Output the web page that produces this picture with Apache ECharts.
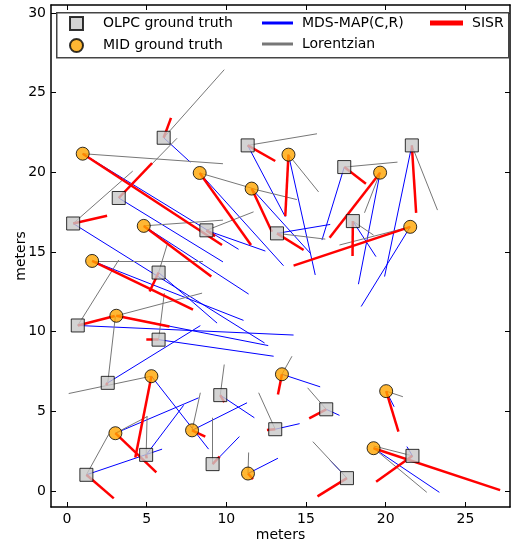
<!DOCTYPE html>
<html>
<head>
    <meta charset="utf-8">
    <title>localization errors</title>
    <style>
        html,body,#main{
            height: 100%;
            width: 100%;
            padding: 0;
            margin: 0;
            background: #fff;
        }
    </style>
</head>
<body>
    <div id="main"></div>
    <script src="https://cdn.jsdelivr.net/npm/echarts@6/dist/echarts.min.js"></script>
    <script>
        // ground truth positions (meters)
        var olpcTruth = [[6.07,22.17],[11.34,21.69],[3.25,18.39],[0.39,16.79],[8.75,16.36],[5.75,13.71],[13.18,16.17],[17.40,20.33],[17.94,16.94],[21.64,21.69],[0.68,10.39],[5.75,9.50],[2.56,6.79],[9.62,6.02],[4.97,2.27],[1.22,1.02],[9.14,1.69],[13.07,3.88],[16.27,5.13],[17.57,0.81],[21.68,2.21]];
        var midTruth = [[0.99,21.17],[8.33,19.96],[11.59,18.98],[13.90,21.11],[19.65,19.98],[4.82,16.64],[1.58,14.44],[21.54,16.58],[3.10,11.00],[5.30,7.21],[3.04,3.63],[7.85,3.81],[13.49,7.33],[20.03,6.27],[19.24,2.69],[11.36,1.10]];

        // estimated positions, same order as the truth arrays
        var olpcMds = [[7.74,20.64],[13.70,17.21],[9.79,14.38],[12.40,9.29],[12.45,15.06],[9.42,10.54],[16.52,16.73],[16.00,15.75],[19.39,14.71],[19.93,13.46],[14.22,9.79],[12.97,8.46],[8.37,10.38],[11.76,4.60],[7.32,5.38],[5.97,2.63],[10.82,3.42],[14.60,4.23],[17.10,4.75],[16.50,1.95],[21.33,2.79]];
        var olpcLor = [[9.87,26.44],[15.69,22.42],[6.91,22.14],[4.13,20.08],[11.71,17.52],[6.28,15.44],[16.21,15.81],[20.74,20.64],[19.24,16.06],[23.25,17.63],[3.25,14.50],[6.11,12.42],[3.04,10.96],[9.87,7.94],[5.03,4.71],[2.62,3.56],[9.14,4.60],[12.03,6.17],[15.10,6.48],[15.43,3.10],[19.24,2.83]];
        var olpcSisr = [[6.53,23.42],[13.07,20.71],[5.34,20.58],[2.52,17.27],[9.30,16.00],[5.19,12.52],[14.85,15.13],[18.76,19.29],[17.92,14.75],[21.91,17.46],[3.00,10.98],[4.98,9.50],[2.45,6.65],[9.87,5.58],[5.00,2.05],[2.94,-0.46],[9.58,2.17],[12.55,3.83],[15.20,4.56],[15.72,-0.33],[19.40,0.58]];

        var midMds = [[10.77,15.17],[13.59,14.14],[15.27,14.92],[15.58,13.56],[18.29,12.98],[11.40,12.36],[11.08,10.71],[18.46,11.58],[12.63,9.13],[8.89,2.63],[8.26,5.85],[11.30,5.54],[15.89,6.54],[20.53,5.29],[23.37,-0.08],[13.24,2.06]];
        var midLor = [[9.79,20.54],[11.82,18.94],[14.43,18.29],[15.79,18.77],[18.67,17.46],[9.79,17.00],[8.54,14.44],[17.10,15.44],[8.48,12.42],[0.11,6.12],[5.03,4.67],[8.37,6.17],[14.12,8.46],[21.08,5.92],[22.58,-0.08],[11.40,2.42]];
        var midSisr = [[9.73,15.44],[11.55,15.44],[12.86,16.27],[13.70,17.25],[16.48,15.90],[9.06,13.46],[7.91,11.38],[14.22,14.15],[6.43,10.33],[4.29,2.10],[5.61,1.17],[8.68,3.42],[13.24,6.06],[20.80,3.73],[27.18,0.06],[11.67,0.75]];

        var xTicks = [0, 5, 10, 15, 20, 25];
        var yTicks = [0, 5, 10, 15, 20, 25, 30];

        var FONT = 'DejaVu Sans';

        // one segment per node, truth -> estimate
        function segs(truth, est) {
            return truth.map(function (p, i) {
                return { coords: [p, est[i]] };
            });
        }

        function xAxisOf(pos, labels) {
            return {
                type: 'value', min: -1, max: 27.8, position: pos,
                name: labels ? 'meters' : '', nameLocation: 'middle', nameGap: 21, nameMoveOverlap: false,
                nameTextStyle: { fontFamily: FONT, fontSize: 14, color: '#000' },
                axisLine: { show: true, onZero: false, lineStyle: { color: '#000', width: 1.5 } },
                axisTick: { show: true, inside: true, length: 5, customValues: xTicks, lineStyle: { color: '#000' } },
                axisLabel: { show: labels, customValues: xTicks, margin: 5, fontFamily: FONT, fontSize: 14, color: '#000' },
                splitLine: { show: false }
            };
        }
        function yAxisOf(pos, labels) {
            return {
                type: 'value', min: -1, max: 30.5, position: pos,
                name: labels ? 'meters' : '', nameLocation: 'middle', nameGap: 23, nameMoveOverlap: false,
                nameTextStyle: { fontFamily: FONT, fontSize: 14, color: '#000' },
                axisLine: { show: true, onZero: false, lineStyle: { color: '#000', width: 1.5 } },
                axisTick: { show: true, inside: true, length: 5, customValues: yTicks, lineStyle: { color: '#000' } },
                axisLabel: { show: labels, customValues: yTicks, margin: 5, fontFamily: FONT, fontSize: 14, color: '#000' },
                splitLine: { show: false }
            };
        }

        var legendText = { fontFamily: FONT, fontSize: 14, color: '#000', lineHeight: 14 };

        var chart = echarts.init(document.getElementById('main'));
        chart.setOption({
            animation: false,
            backgroundColor: '#fff',
            grid: { left: 51, right: 1, top: 5, bottom: 35, outerBoundsMode: 'none', containLabel: false },
            xAxis: [xAxisOf('bottom', true), xAxisOf('top', false)],
            yAxis: [yAxisOf('left', true), yAxisOf('right', false)],
            graphic: [{
                type: 'rect', left: 56, top: 12, z: 3,
                shape: { width: 452, height: 45 },
                style: { fill: '#fff', stroke: '#444', lineWidth: 1.5 }
            }],
            legend: [{
                data: [{ name: 'OLPC ground truth', icon: 'rect' }, { name: 'MID ground truth', icon: 'circle' }],
                orient: 'vertical', left: 69, top: 16, padding: 0, itemWidth: 13, itemHeight: 13, itemGap: 7,
                selectedMode: false, textStyle: Object.assign({ padding: [0, 0, 0, 15] }, legendText)
            }, {
                data: ['MDS-MAP(C,R)', 'Lorentzian'], icon: 'rect',
                orient: 'vertical', left: 262, top: 16, padding: 0, itemWidth: 29, itemHeight: 1, itemGap: 7,
                selectedMode: false, textStyle: Object.assign({ padding: [0, 0, 0, 5] }, legendText)
            }, {
                data: ['SISR'], icon: 'rect',
                orient: 'vertical', left: 430, top: 16, padding: 0, itemWidth: 31, itemHeight: 3, itemGap: 7,
                selectedMode: false, textStyle: Object.assign({ padding: [0, 0, 0, 5] }, legendText)
            }],
            series: [{
                name: 'MDS-MAP(C,R)', type: 'lines', coordinateSystem: 'cartesian2d', z: 1,
                data: segs(olpcTruth, olpcMds).concat(segs(midTruth, midMds)),
                lineStyle: { color: '#0000ff', width: 1, opacity: 1 }
            }, {
                name: 'Lorentzian', type: 'lines', coordinateSystem: 'cartesian2d', z: 1,
                data: segs(olpcTruth, olpcLor).concat(segs(midTruth, midLor)),
                lineStyle: { color: '#777777', width: 1, opacity: 1 }
            }, {
                name: 'SISR', type: 'lines', coordinateSystem: 'cartesian2d', z: 2,
                data: segs(olpcTruth, olpcSisr).concat(segs(midTruth, midSisr)),
                lineStyle: { color: '#ff0000', width: 2.5, opacity: 1 }
            }, {
                name: 'OLPC ground truth', type: 'scatter', z: 3,
                symbol: 'rect', symbolSize: 13, data: olpcTruth,
                itemStyle: { color: '#c8c8c8', borderColor: '#000', borderWidth: 1 }
            }, {
                name: 'MID ground truth', type: 'scatter', z: 3,
                symbol: 'circle', symbolSize: 13, data: midTruth,
                itemStyle: { color: '#ffa500', borderColor: '#000', borderWidth: 1 }
            }]
        });
    </script>
</body>
</html>
